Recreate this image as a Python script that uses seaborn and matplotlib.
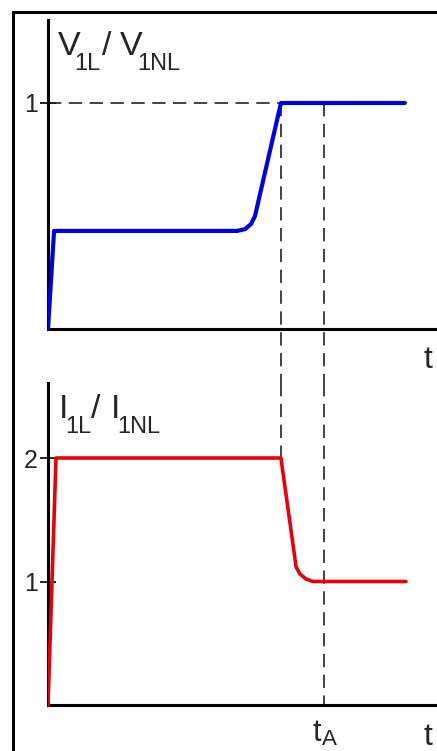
import matplotlib.pyplot as plt
import matplotlib.patches as mpatches
import seaborn as sns

sns.set_theme(style="white")
plt.rcParams['font.family'] = ['Liberation Sans', 'DejaVu Sans']

# time axis (arbitrary units), t1 = end of voltage rise, tA = current settled
t1 = 8.44
tA = 10.0

v_t = [0.0, 0.22, 6.85, 7.14, 7.36, 7.50, 8.44, 12.93]
v_ratio = [0.0, 0.434, 0.434, 0.442, 0.465, 0.50, 1.0, 1.0]

i_t = [0.0, 0.29, 8.44, 8.99, 9.13, 9.35, 9.60, 12.97]
i_ratio = [0.0, 2.0, 2.0, 1.117, 1.06, 1.02, 1.0, 1.0]

W, H = 437, 751
fig = plt.figure(figsize=(W / 100, H / 100), dpi=100)

x_left = 48 / W
xmax = (W - 48) / 27.6

# top panel: rows 20..383, zero at row 329, 226 px per unit
ax1 = fig.add_axes([x_left, 1 - 383 / H, 1 - x_left, (383 - 20) / H])
ax1.set_xlim(0, xmax)
ax1.set_ylim(-(383 - 329) / 226, (329 - 20) / 226)
# bottom panel: rows 383..751, zero at row 705, 123.5 px per unit
ax2 = fig.add_axes([x_left, 0, 1 - x_left, (751 - 383) / H])
ax2.set_xlim(0, xmax)
ax2.set_ylim(-(751 - 705) / 123.5, (705 - 383) / 123.5)

dash = dict(color='#222222', lw=1.2, linestyle=(0, (8, 4.5)), zorder=1)
ax1.plot([0, t1], [1, 1], **dash)
ax1.plot([t1, t1], [1, ax1.get_ylim()[0]], **dash)
ax1.plot([tA, tA], [1, ax1.get_ylim()[0]], **dash)
ax2.plot([t1, t1], [ax2.get_ylim()[1], 2], **dash)
ax2.plot([tA, tA], [ax2.get_ylim()[1], 0], **dash)

sns.lineplot(x=v_t, y=v_ratio, ax=ax1, color='#0000e6', lw=3.0,
             sort=False, zorder=3, solid_joinstyle='round', solid_capstyle='round')
sns.lineplot(x=i_t, y=i_ratio, ax=ax2, color='#e8000b', lw=2.6,
             sort=False, zorder=3, solid_joinstyle='round', solid_capstyle='round')

for ax, top in [(ax1, ax1.get_ylim()[1]), (ax2, ax2.get_ylim()[1])]:
    ax.patch.set_visible(False)
    ax.spines['top'].set_visible(False)
    ax.spines['right'].set_visible(False)
    ax.spines['bottom'].set_position(('data', 0))
    ax.spines['left'].set_bounds(0, top)
    for s in ['left', 'bottom']:
        ax.spines[s].set_color('black')
        ax.spines[s].set_linewidth(2.2)
    ax.tick_params(axis='y', direction='inout', length=11, width=1.2,
                   color='black', left=True, labelsize=18, pad=2)
    ax.set_xlabel('')
    ax.set_ylabel('')

ax1.set_yticks([1])
ax1.set_xticks([])
ax2.set_yticks([1, 2])
ax2.set_xticks([])


def label(ax, x, y, parts, size=24.5, sub=17, drop=-11):
    # parts: list of (text, is_subscript, dx in points)
    prev = None
    for txt, is_sub, dx in parts:
        fs = sub if is_sub else size
        dy = drop if is_sub else 0
        if prev is None:
            prev = ax.annotate(txt, xy=(x, y), xycoords='data',
                               xytext=(dx, dy), textcoords='offset points',
                               fontsize=fs, ha='left', va='baseline')
        else:
            prev = ax.annotate(txt, xy=(1, y), xycoords=(prev, 'data'),
                               xytext=(dx, dy), textcoords='offset points',
                               fontsize=fs, ha='left', va='baseline')


label(ax1, 0.34, 1.212, [('V', False, 0), ('1L', True, -4), ('/', False, 1),
                         ('V', False, 6), ('1NL', True, -4)])
label(ax2, 0.38, 2.324, [('I', False, 0), ('1L', True, -2), ('/', False, 0),
                         ('I', False, 7), ('1NL', True, -2)])
label(ax2, tA - 0.4, -0.29, [('t', False, 0), ('A', True, 0)],
      size=22, sub=16, drop=-3)
ax1.text(13.75, -0.07, 't', fontsize=23, ha='center', va='top')
ax2.text(13.75, -0.14, 't', fontsize=23, ha='center', va='top')

# outer frame
fig.patches.append(mpatches.Rectangle((12.5 / W, -0.05), 1.1, 1.05 - 12 / H,
                                      transform=fig.transFigure, fill=False,
                                      edgecolor='black', lw=2.2))

fig.savefig('out.png', dpi=100)
